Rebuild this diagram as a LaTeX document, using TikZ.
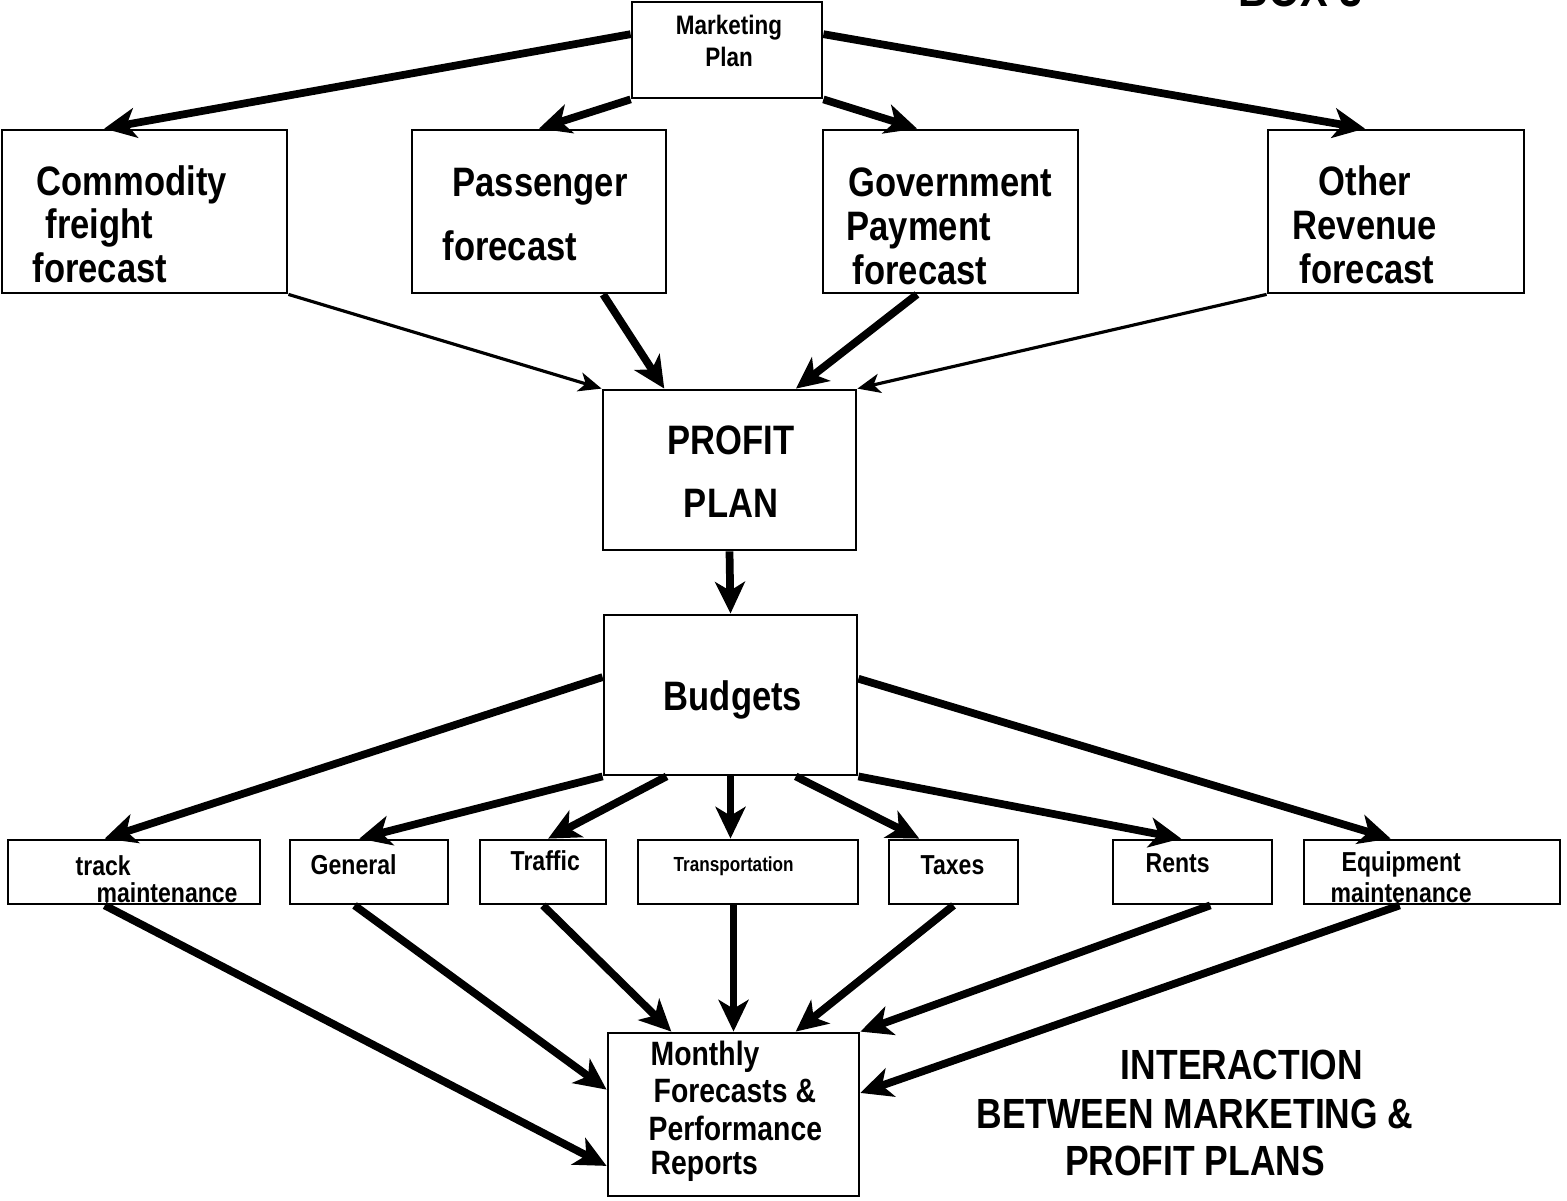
\documentclass[tikz,border=0pt]{standalone}
\usepackage{fontspec}
\setmainfont{Liberation Sans}
\newfontfamily\narrowsans[FakeStretch=0.84]{Liberation Sans}
\usetikzlibrary{arrows.meta,calc,fit}

\tikzset{
  box/.style={draw, line width=0.8pt, inner sep=0pt, rectangle},
  lbl/.style={inner sep=0pt, anchor=base west},
  clbl/.style={inner sep=0pt, anchor=base},
  bigtxt/.style={font=\narrowsans\bfseries\fontsize{11.7}{14}\selectfont},
  midtxt/.style={font=\narrowsans\bfseries\fontsize{9.6}{11}\selectfont},
  smalltxt/.style={font=\narrowsans\bfseries\fontsize{7.8}{9}\selectfont},
  tinytxt/.style={font=\narrowsans\bfseries\fontsize{5.8}{7}\selectfont},
  heavy/.style={line width=2.2pt, -{Stealth[length=9pt,width=8.5pt,inset=2.5pt]}},
  light/.style={line width=0.9pt, -{Stealth[length=6.5pt,width=5.5pt,inset=1.8pt]}},
}

\begin{document}
\begin{tikzpicture}[x=0.01cm, y=-0.01cm]
\useasboundingbox (0,0) rectangle (1567,1201);
\clip (0,0) rectangle (1567,1201);

% heading in the top right corner
\node[lbl, font=\narrowsans\bfseries\fontsize{14}{16}\selectfont] (boxno) at (1238,7) {BOX 3};

% ---------- boxes ----------
\node[box, fit={(632,2) (822,98)}] (mp) {};
\node[box, fit={(2,130) (287,293)}] (cf) {};
\node[box, fit={(412,130) (666,293)}] (pf) {};
\node[box, fit={(823,130) (1078,293)}] (gp) {};
\node[box, fit={(1268,130) (1524,293)}] (orv) {};
\node[box, fit={(603,390) (856,550)}] (pp) {};
\node[box, fit={(604,615) (857,775)}] (bu) {};
\node[box, fit={(8,840) (260,904)}] (tm) {};
\node[box, fit={(290,840) (448,904)}] (ge) {};
\node[box, fit={(480,840) (606,904)}] (tf) {};
\node[box, fit={(638,840) (858,904)}] (tr) {};
\node[box, fit={(889,840) (1018,904)}] (tx) {};
\node[box, fit={(1113,840) (1272,904)}] (re) {};
\node[box, fit={(1304,840) (1560,904)}] (eq) {};
\node[box, fit={(608,1033) (859,1196)}] (mf) {};

% ---------- texts ----------
\node[clbl, font=\narrowsans\bfseries\fontsize{7.6}{9}\selectfont] (mp1) at (729,35) {Marketing};
\node[clbl, font=\narrowsans\bfseries\fontsize{7.6}{9}\selectfont] (mp2) at (729,67) {Plan};

\node[lbl, bigtxt] (cf1) at (36,196) {Commodity};
\node[lbl, bigtxt] (cf2) at (45,239) {freight};
\node[lbl, bigtxt] (cf3) at (32,283) {forecast};

\node[lbl, bigtxt] (pf1) at (452,197) {Passenger};
\node[lbl, bigtxt] (pf2) at (442,261) {forecast};

\node[lbl, bigtxt] (gp1) at (848,197) {Government};
\node[lbl, bigtxt] (gp2) at (846,241) {Payment};
\node[lbl, bigtxt] (gp3) at (852,285) {forecast};

\node[lbl, bigtxt] (or1) at (1318,196) {Other};
\node[lbl, bigtxt] (or2) at (1292,240) {Revenue};
\node[lbl, bigtxt] (or3) at (1299,284) {forecast};

\node[clbl, bigtxt] (pp1) at (731,455) {PROFIT};
\node[clbl, bigtxt] (pp2) at (731,518) {PLAN};

\node[clbl, bigtxt] (bu1) at (733,711) {Budgets};

\node[lbl, smalltxt] (tm1) at (75,875) {track};
\node[lbl, smalltxt] (tm2) at (96,902) {maintenance};
\node[lbl, smalltxt] (ge1) at (310,874) {General};
\node[lbl, smalltxt] (tf1) at (510,870) {Traffic};
\node[lbl, tinytxt] (tr1) at (673,871) {Transportation};
\node[lbl, smalltxt] (tx1) at (920,874) {Taxes};
\node[lbl, smalltxt] (re1) at (1145,873) {Rents};
\node[lbl, smalltxt] (eq1) at (1341,871) {Equipment};
\node[lbl, smalltxt] (eq2) at (1330,902) {maintenance};

\node[lbl, midtxt] (mf1) at (650,1065) {Monthly};
\node[lbl, midtxt] (mf2) at (653,1102) {Forecasts \&};
\node[lbl, midtxt] (mf3) at (648,1140) {Performance};
\node[lbl, midtxt] (mf4) at (650,1174) {Reports};

\node[clbl, font=\narrowsans\bfseries\fontsize{12}{14}\selectfont] (ti1) at (1242,1079) {INTERACTION};
\node[clbl, font=\narrowsans\bfseries\fontsize{12}{14}\selectfont] (ti2) at (1195,1128) {BETWEEN MARKETING \&};
\node[clbl, font=\narrowsans\bfseries\fontsize{12}{14}\selectfont] (ti3) at (1195,1175) {PROFIT PLANS};

% ---------- connectors ----------
% marketing plan to the four forecasts
\draw[heavy] ($(mp.north west)!0.34!(mp.south west)$) -- ($(cf.north west)!0.36!(cf.north east)$);
\draw[heavy] (mp.south west) -- (pf.north);
\draw[heavy] (mp.south east) -- ($(gp.north west)!0.37!(gp.north east)$);
\draw[heavy] ($(mp.north east)!0.34!(mp.south east)$) -- ($(orv.north west)!0.38!(orv.north east)$);

% forecasts to the profit plan
\draw[light] (cf.south east) -- (pp.north west);
\draw[heavy] ($(pf.south west)!0.75!(pf.south east)$) -- ($(pp.north west)!0.245!(pp.north east)$);
\draw[heavy] ($(gp.south west)!0.37!(gp.south east)$) -- ($(pp.north west)!0.76!(pp.north east)$);
\draw[light] (orv.south west) -- (pp.north east);

% profit plan to budgets
\draw[heavy] (pp.south) -- (bu.north);

% budgets to the seven items
\draw[heavy] ($(bu.north west)!0.39!(bu.south west)$) -- ($(tm.north west)!0.385!(tm.north east)$);
\draw[heavy] (bu.south west) -- ($(ge.north west)!0.44!(ge.north east)$);
\draw[heavy] ($(bu.south west)!0.25!(bu.south east)$) -- ($(tf.north west)!0.54!(tf.north east)$);
\draw[heavy] (bu.south) -- (bu.south |- tr.north);
\draw[heavy] ($(bu.south west)!0.755!(bu.south east)$) -- ($(tx.north west)!0.24!(tx.north east)$);
\draw[heavy] (bu.south east) -- ($(re.north west)!0.43!(re.north east)$);
\draw[heavy] ($(bu.north east)!0.40!(bu.south east)$) -- ($(eq.north west)!0.34!(eq.north east)$);

% items to the monthly reports
\draw[heavy] ($(tm.south west)!0.385!(tm.south east)$) -- ($(mf.north west)!0.81!(mf.south west)$);
\draw[heavy] ($(ge.south west)!0.41!(ge.south east)$) -- ($(mf.north west)!0.35!(mf.south west)$);
\draw[heavy] (tf.south) -- ($(mf.north west)!0.255!(mf.north east)$);
\draw[heavy] (mf.north |- tr.south) -- (mf.north);
\draw[heavy] (tx.south) -- ($(mf.north west)!0.745!(mf.north east)$);
\draw[heavy] ($(re.south west)!0.61!(re.south east)$) -- (mf.north east);
\draw[heavy] ($(eq.south west)!0.375!(eq.south east)$) -- ($(mf.north east)!0.37!(mf.south east)$);
\end{tikzpicture}
\end{document}
